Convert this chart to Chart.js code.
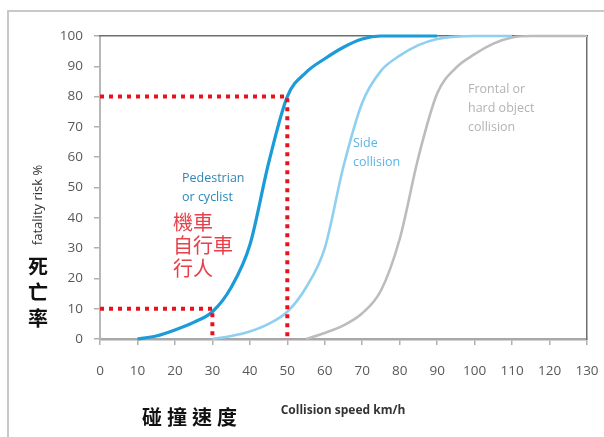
<!DOCTYPE html>
<html>
<head>
<meta charset="utf-8">
<script src="https://cdn.jsdelivr.net/npm/chart.js@4"></script>
<style>
  html, body { margin: 0; padding: 0; background: #fff; }
  #wrap { width: 604px; height: 437px; }
</style>
</head>
<body>
<div id="wrap"><canvas id="riskChart" width="604" height="437"></canvas></div>
<script>
// collision speed (km/h) and fatality risk (%)
const speeds = [0, 5, 10, 15, 20, 25, 30, 35, 40, 45, 50, 55, 60, 65, 70, 75, 80, 85, 90, 95, 100, 105, 110, 115, 120, 125, 130];
const pedestrianRisk = [null, null, 0, 1, 3, 5.5, 9, 17, 31, 58, 80, 88, 92.5, 96.3, 99, 100, 100, 100, 100, null, null, null, null, null, null, null, null];
const sideRisk = [null, null, null, null, null, null, 0, 1, 2.5, 5, 9, 17, 30, 57, 78, 88.5, 93.5, 97, 99, 99.8, 100, 100, 100, null, null, null, null];
const frontalRisk = [null, null, null, null, null, null, null, null, null, null, null, 0, 2, 4.5, 8.5, 16, 33, 60, 81, 89.5, 94, 97.5, 99.5, 100, 100, 100, 100];

// red dotted guide lines (50 km/h -> 80%, 30 km/h -> 10%)
const guide80Speed = [0, 50, 50];
const guide80Risk = [80, 80, 0];
const guide10Speed = [0, 30, 30];
const guide10Risk = [10, 10, 0];

const xTicks = { min: 0, max: 130, step: 10 };
const yTicks = { min: 0, max: 100, step: 10 };

const toPoints = (xs, ys) => xs.map((x, i) => ({ x: x, y: ys[i] }));

// 그림 위의 글자들 (축 제목, 곡선 설명, 한자 라벨)
const textPlugin = {
    id: 'texts',
    beforeDraw(chart) {
        const ctx = chart.ctx;
        ctx.save();
        ctx.strokeStyle = '#c8c8c8';
        ctx.lineWidth = 2;
        ctx.strokeRect(8, 11, 700, 600);
        ctx.restore();
    },
    afterDraw(chart) {
        const ctx = chart.ctx;
        ctx.save();
        ctx.textBaseline = 'middle';
        ctx.textAlign = 'left';

        // y axis title
        ctx.save();
        ctx.translate(38, 205);
        ctx.rotate(-Math.PI / 2);
        ctx.textAlign = 'center';
        ctx.font = '13px "Open Sans"';
        ctx.fillStyle = '#333';
        ctx.fillText('fatality risk %', 0, 0);
        ctx.restore();

        // 死亡率 (세로)
        ctx.textAlign = 'center';
        ctx.font = 'bold 20px "Noto Sans CJK TC"';
        ctx.fillStyle = '#111';
        ['死', '亡', '率'].forEach((ch, i) => ctx.fillText(ch, 38, 266 + i * 26));

        // 碰撞速度
        ['碰', '撞', '速', '度'].forEach((ch, i) => ctx.fillText(ch, 152 + i * 25, 417));

        // x axis title
        ctx.font = 'bold 12px "Open Sans"';
        ctx.fillStyle = '#333';
        ctx.fillText('Collision speed km/h', 343, 411);

        // curve notes
        ctx.textAlign = 'left';
        ctx.font = '12.5px "Open Sans"';
        ctx.fillStyle = '#2b88b8';
        ctx.fillText('Pedestrian', 182, 178);
        ctx.fillText('or cyclist', 182, 197);

        ctx.font = '20px "Noto Sans CJK TC"';
        ctx.fillStyle = '#e8404a';
        ctx.fillText('機車', 173, 222);
        ctx.fillText('自行車', 173, 245);
        ctx.fillText('行人', 173, 268);

        ctx.font = '12.5px "Open Sans"';
        ctx.fillStyle = '#5bb5e5';
        ctx.fillText('Side', 353, 143);
        ctx.fillText('collision', 353, 162);

        ctx.fillStyle = '#b3b3b3';
        ctx.fillText('Frontal or', 468, 89);
        ctx.fillText('hard object', 468, 108);
        ctx.fillText('collision', 468, 127);
        ctx.restore();
    }
};

const curveStyle = {
    fill: false,
    pointRadius: 0,
    cubicInterpolationMode: 'monotone',
    spanGaps: false,
    clip: 6,
    order: 2
};

const guideStyle = {
    borderColor: '#e8121c',
    borderWidth: 4,
    borderDash: [4, 5],
    borderCapStyle: 'butt',
    pointRadius: 0,
    tension: 0,
    fill: false,
    clip: 6,
    order: 1
};

new Chart(document.getElementById('riskChart').getContext('2d'), {
    type: 'line',
    data: {
        datasets: [
            Object.assign({ label: 'Pedestrian or cyclist', data: toPoints(speeds, pedestrianRisk), borderColor: '#1b9bd7', borderWidth: 3.2 }, curveStyle),
            Object.assign({ label: 'Side collision', data: toPoints(speeds, sideRisk), borderColor: '#8fd0f0', borderWidth: 2.6 }, curveStyle),
            Object.assign({ label: 'Frontal or hard object collision', data: toPoints(speeds, frontalRisk), borderColor: '#bcbcbc', borderWidth: 2.6 }, curveStyle),
            Object.assign({ label: '80%', data: toPoints(guide80Speed, guide80Risk) }, guideStyle),
            Object.assign({ label: '10%', data: toPoints(guide10Speed, guide10Risk) }, guideStyle)
        ]
    },
    options: {
        responsive: false,
        animation: false,
        layout: { padding: { left: 0, right: 17, top: 36, bottom: 0 } },
        plugins: {
            legend: { display: false },
            tooltip: { enabled: false }
        },
        scales: {
            x: {
                type: 'linear',
                position: 'bottom',
                min: xTicks.min,
                max: xTicks.max,
                afterFit: s => { s.height = 98; s.paddingRight = 0; s.paddingLeft = 0; },
                ticks: {
                    stepSize: xTicks.step,
                    padding: 18,
                    color: '#595959',
                    font: { family: '"Open Sans"', size: 13.5 }
                },
                grid: { drawOnChartArea: false, drawTicks: true, tickLength: 6, color: '#b0b0b0', lineWidth: 1.5 },
                border: { color: '#a8a8a8', width: 2.5 }
            },
            y: {
                position: 'left',
                min: yTicks.min,
                max: yTicks.max,
                afterFit: s => { s.width = 100; s.paddingTop = 0; s.paddingBottom = 0; },
                ticks: {
                    stepSize: yTicks.step,
                    padding: 11,
                    color: '#595959',
                    font: { family: '"Open Sans"', size: 13.5 }
                },
                grid: { drawOnChartArea: false, drawTicks: true, tickLength: 6, color: '#b0b0b0', lineWidth: 1.5 },
                border: { color: '#b8b8b8', width: 2 }
            },
            x2: {
                type: 'linear',
                position: 'top',
                min: xTicks.min,
                max: xTicks.max,
                afterFit: s => { s.height = 0; },
                ticks: { display: false },
                grid: { drawOnChartArea: false, drawTicks: false },
                border: { color: '#6e6e6e', width: 1.5 }
            },
            y2: {
                position: 'right',
                min: yTicks.min,
                max: yTicks.max,
                afterFit: s => { s.width = 0; },
                ticks: { display: false },
                grid: { drawOnChartArea: false, drawTicks: false },
                border: { color: '#6e6e6e', width: 1.5 }
            }
        }
    },
    plugins: [textPlugin]
});
</script>
</body>
</html>
